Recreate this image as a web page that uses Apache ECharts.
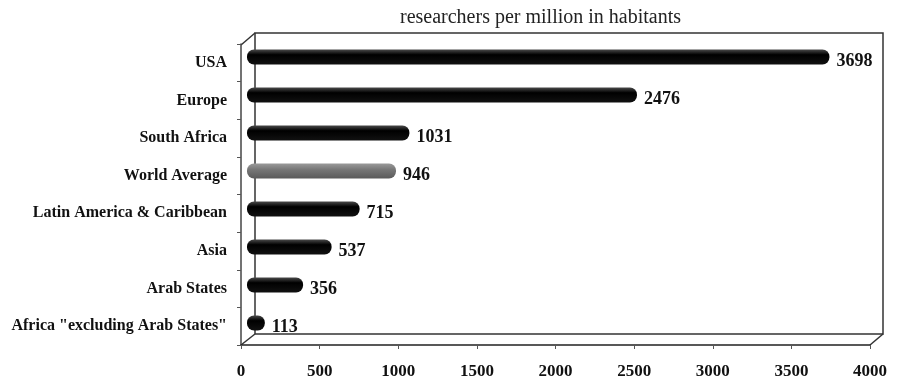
<!DOCTYPE html>
<html>
<head>
<meta charset="utf-8">
<script src="https://cdn.jsdelivr.net/npm/echarts@6/dist/echarts.min.js"></script>
<style>
html,body{margin:0;padding:0;background:#fff;}
#chart{width:898px;height:384px;}
</style>
</head>
<body>
<div id="chart"></div>
<script>
var categories = ['USA', 'Europe', 'South Africa', 'World Average', 'Latin America & Caribbean', 'Asia', 'Arab States', 'Africa "excluding Arab States"'];
var values = [3698, 2476, 1031, 946, 715, 537, 356, 113];
var highlight = 'World Average';

var myChart = echarts.init(document.getElementById('chart'));
var serif = '"Liberation Serif", "DejaVu Serif", serif';

var black = new echarts.graphic.LinearGradient(0, 0, 0, 1, [
    {offset: 0, color: '#4a4a4a'},
    {offset: 0.35, color: '#000'},
    {offset: 1, color: '#111'}
]);
var grey = new echarts.graphic.LinearGradient(0, 0, 0, 1, [
    {offset: 0, color: '#9a9a9a'},
    {offset: 0.4, color: '#777'},
    {offset: 1, color: '#5a5a5a'}
]);

option = {
    animation: false,
    title: {
        text: 'researchers per million in habitants',
        left: 395,
        top: 3,
        textStyle: {fontFamily: serif, fontWeight: 'normal', fontSize: 20, color: '#222'}
    },
    grid: [
        // back wall of the 3D box
        {left: 255, top: 33, width: 628, height: 301, show: true, borderColor: '#333', borderWidth: 1.5, backgroundColor: 'transparent'},
        // front axes
        {left: 241, top: 44, width: 629, height: 301},
        // bars, sitting mid-depth
        {left: 247, top: 38, width: 630, height: 304}
    ],
    xAxis: [
        {gridIndex: 0, type: 'value', show: false, min: 0, max: 4000},
        {
            gridIndex: 1, type: 'value', min: 0, max: 4000, interval: 500,
            axisLine: {show: true, lineStyle: {color: '#222', width: 1.5}},
            axisTick: {show: true, length: 4, lineStyle: {color: '#555'}},
            splitLine: {show: false},
            axisLabel: {
                fontFamily: serif, fontWeight: 'bold', fontSize: 17, color: '#111', margin: 18,
                formatter: function (v) { return String(v); }
            }
        },
        {gridIndex: 2, type: 'value', show: false, min: 0, max: 4000}
    ],
    yAxis: [
        {gridIndex: 0, type: 'category', show: false, data: categories, inverse: true},
        {
            gridIndex: 1, type: 'category', data: categories, inverse: true,
            axisLine: {show: true, lineStyle: {color: '#444', width: 1.5}},
            axisTick: {show: true, length: 4, lineStyle: {color: '#555'}},
            axisLabel: {fontFamily: serif, fontWeight: 'bold', fontSize: 16, color: '#111', margin: 14}
        },
        {gridIndex: 2, type: 'category', show: false, data: categories, inverse: true}
    ],
    graphic: [
        {type: 'line', shape: {x1: 241, y1: 45, x2: 255, y2: 33}, style: {stroke: '#333', lineWidth: 1.5}},
        {type: 'line', shape: {x1: 241, y1: 345, x2: 255, y2: 334}, style: {stroke: '#333', lineWidth: 1.5}},
        {type: 'line', shape: {x1: 870, y1: 345, x2: 883, y2: 334}, style: {stroke: '#333', lineWidth: 1.5}}
    ],
    series: [
        {
            type: 'bar',
            xAxisIndex: 2,
            yAxisIndex: 2,
            barWidth: 15,
            data: values.map(function (v, i) {
                return {value: v, itemStyle: {color: categories[i] === highlight ? grey : black}};
            }),
            itemStyle: {borderRadius: 7},
            label: {
                show: true,
                position: 'right',
                distance: 7,
                offset: [0, 4],
                fontFamily: serif,
                fontWeight: 'bold',
                fontSize: 18,
                color: '#111'
            }
        }
    ]
};
myChart.setOption(option);
window.addEventListener('resize', function () {
    myChart.resize();
});
</script>
</body>
</html>
